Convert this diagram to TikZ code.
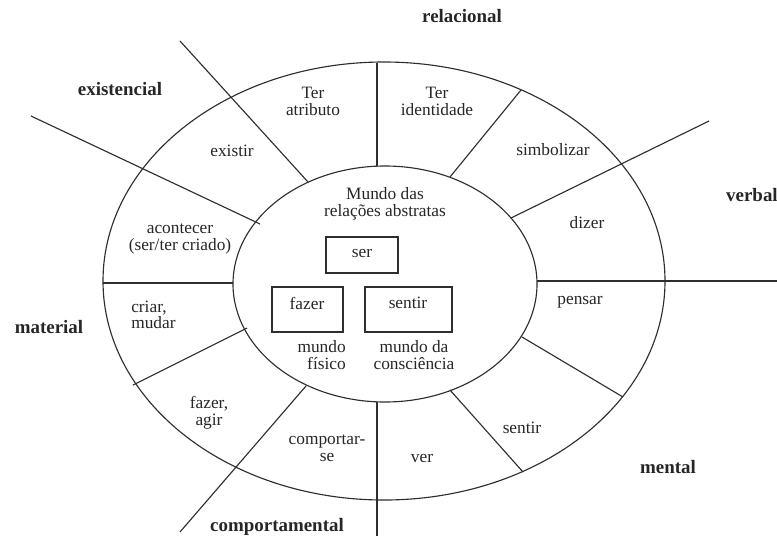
\documentclass[tikz,border=0pt]{standalone}
\usepackage{fontspec}
\setmainfont{Liberation Serif}
\begin{document}
\begin{tikzpicture}[x=0.75pt,y=-0.75pt,
  ink/.style={draw=black!82, line width=0.85pt},
  lbl/.style={text=black!85, font=\fontsize{13}{12.75}\selectfont, align=center, inner sep=0pt},
  cat/.style={text=black!85, font=\fontsize{14.2}{15}\selectfont\bfseries, inner sep=0pt},
  boxe/.style={ink, rectangle, inner sep=0pt}]
\useasboundingbox (0,0) rectangle (777,536);
% ellipses
\draw[ink] (384,281) ellipse [x radius=281, y radius=219];
\draw[ink] (385,284) ellipse [x radius=152, y radius=118];
% coordinates of dividing lines
\coordinate (a1) at (180,41);  \coordinate (a2) at (308,182);
\coordinate (b1) at (31,116);  \coordinate (b2) at (260,224);
\coordinate (c1) at (377,63);  \coordinate (c2) at (377,166);
\coordinate (d1) at (521,90);  \coordinate (d2) at (450,177);
\coordinate (e1) at (709,121); \coordinate (e2) at (511,218);
\coordinate (f1) at (537,281); \coordinate (f2) at (777,281);
\coordinate (g1) at (522,337); \coordinate (g2) at (623,397);
\coordinate (h1) at (450,390); \coordinate (h2) at (523,472);
\coordinate (i1) at (377,402); \coordinate (i2) at (377,536);
\coordinate (j1) at (306,386); \coordinate (j2) at (180,532);
\coordinate (k1) at (247,328); \coordinate (k2) at (133,385);
\coordinate (l1) at (103,283); \coordinate (l2) at (233,283);
\foreach \p in {a,b,c,d,e,f,g,h,i,j,k,l} \draw[ink] (\p1) -- (\p2);
% boxes
\node[boxe, minimum width=54pt, minimum height=27pt] (serbox) at (362,255) {};
\node[boxe, minimum width=53.25pt, minimum height=33.75pt] (fazerbox) at (307.5,309.5) {};
\node[boxe, minimum width=65.25pt, minimum height=33.75pt] (sentirbox) at (408.5,309.5) {};
\node[lbl] (ser) at (362,253) {ser};
\node[lbl] (fazer) at (307,303) {fazer};
\node[lbl] (sentirc) at (408,303) {sentir};
% category labels
\node[cat] (relacional) at (462,16) {relacional};
\node[cat] (existencial) at (120,89) {existencial};
\node[cat, anchor=east] (verbal) at (778,195) {verbal};
\node[cat] (material) at (49,327) {material};
\node[cat] (comportamental) at (277,527) {comportamental};
\node[cat] (mental) at (668,467) {mental};
% segment labels
\node[lbl] (atributo) at (313,101) {Ter\\atributo};
\node[lbl] (identidade) at (437,101) {Ter\\identidade};
\node[lbl] (existir) at (232,151) {existir};
\node[lbl] (simbolizar) at (553,150) {simbolizar};
\node[lbl] (acontecer) at (180,239) {acontecer\\(ser/ter criado)};
\node[lbl] (dizer) at (587,223) {dizer};
\node[lbl] (mundo) at (385,204) {Mundo das\\relações abstratas};
\node[lbl, align=right, anchor=east] (fisico) at (346,355) {mundo\\físico};
\node[lbl] (consc) at (414,355) {mundo da\\consciência};
\node[lbl, align=left, anchor=west, font=\fontsize{13}{11.5}\selectfont] (criar) at (131,315) {criar,\\mudar};
\node[lbl] (pensar) at (580,302) {pensar};
\node[lbl] (agir) at (209,413) {fazer,\\agir};
\node[lbl] (comportar) at (327,448) {comportar-\\se};
\node[lbl] (sentir) at (522,428) {sentir};
\node[lbl] (ver) at (422,458) {ver};
\end{tikzpicture}
\end{document}
